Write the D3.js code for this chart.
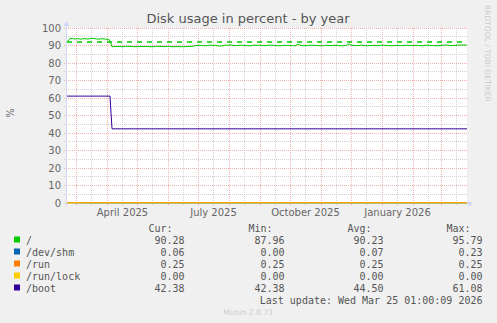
<!DOCTYPE html>
<html>
<head>
<meta charset="utf-8">
<script src="https://cdn.jsdelivr.net/npm/d3@7"></script>
<style>
    html, body { margin: 0; padding: 0; background: #f0f0f0; }
    svg { display: block; }
    text { font-family: "DejaVu Sans", sans-serif; }
    .mono text { font-family: "DejaVu Sans Mono", monospace; }
</style>
</head>
<body>
<div id="chart"></div>
<script>
const WIDTH = 497;
const HEIGHT = 323;
const PLOT = { left: 67, top: 28, width: 400, height: 175 };

// graph window: 400 days ending at the last update
const START = new Date(2025, 1, 19, 12);
const DAYS = 400;

const yTicks = [0, 10, 20, 30, 40, 50, 60, 70, 80, 90, 100];
const yMinorTicks = [5, 15, 25, 35, 45, 55, 65, 75, 85, 95];
const warningLevel = 92;

// [day offset from START, percent]
const rootSeries = [
    [0, 92.3], [1, 92.4], [3, 94.1], [5, 94.0], [8, 93.7], [11, 93.9], [14, 93.6], [17, 94.0],
    [20, 93.7], [23, 93.9], [26, 94.1], [29, 93.8], [32, 93.6], [35, 93.9], [38, 93.7], [41, 93.5],
    [43, 92.9], [45, 89.3], [50, 89.5], [55, 89.3], [60, 89.6], [65, 89.4], [70, 89.3], [75, 89.5],
    [80, 89.4], [85, 89.3], [90, 89.6], [95, 89.4], [100, 89.5], [105, 89.3], [110, 89.4], [115, 89.3],
    [120, 89.4], [125, 89.5], [128, 89.9], [133, 90.1], [138, 89.8], [143, 90.2], [148, 90.0], [153, 89.7],
    [158, 90.1], [163, 90.3], [168, 89.9], [173, 90.2], [178, 90.0], [183, 89.8], [188, 90.2], [193, 90.1],
    [198, 89.9], [203, 90.2], [208, 90.0], [213, 89.8], [218, 90.1], [223, 90.0], [228, 89.8], [231, 90.7],
    [234, 90.0], [239, 89.9], [244, 90.2], [249, 90.0], [254, 89.8], [259, 90.1], [264, 89.9], [269, 90.2],
    [274, 89.8], [279, 90.0], [282, 90.9], [285, 90.1], [290, 89.9], [295, 90.2], [300, 89.8], [305, 90.1],
    [310, 89.9], [315, 90.2], [320, 90.0], [325, 89.8], [330, 90.1], [335, 89.9], [340, 90.2], [345, 89.9],
    [350, 90.1], [355, 89.8], [360, 90.2], [365, 90.0], [370, 89.8], [375, 90.1], [380, 90.3], [385, 89.9],
    [390, 90.2], [395, 90.3], [400, 90.28]
];
const devShmSeries = [[0, 0.23], [20, 0.06], [400, 0.06]];
const runSeries = [[0, 0.25], [400, 0.25]];
const runLockSeries = [[0, 0], [400, 0]];
const bootSeries = [[0, 61.08], [43, 61.08], [45, 42.38], [400, 42.38]];

const seriesNames = ['/', '/dev/shm', '/run', '/run/lock', '/boot'];
const seriesColors = ['#00cc00', '#0066b3', '#ff8000', '#ffcc00', '#330099'];
const seriesData = [rootSeries, devShmSeries, runSeries, runLockSeries, bootSeries];

const legendHeaders = ['Cur:', 'Min:', 'Avg:', 'Max:'];
const legendValues = [
    ['90.28', '87.96', '90.23', '95.79'],
    ['0.06', '0.00', '0.07', '0.23'],
    ['0.25', '0.25', '0.25', '0.25'],
    ['0.00', '0.00', '0.00', '0.00'],
    ['42.38', '42.38', '44.50', '61.08']
];
const lastUpdate = 'Last update: Wed Mar 25 01:00:09 2026';

const dayToDate = (day) => new Date(START.getTime() + day * 864e5);

const x = d3.scaleTime()
    .domain([START, dayToDate(DAYS)])
    .range([PLOT.left, PLOT.left + PLOT.width]);

const y = d3.scaleLinear()
    .domain([0, 100])
    .range([PLOT.top + PLOT.height, PLOT.top]);

const crisp = (v) => Math.floor(v) + 0.5;

const svg = d3.select('#chart')
    .append('svg')
    .attr('width', WIDTH)
    .attr('height', HEIGHT);

svg.append('rect')
    .attr('width', WIDTH)
    .attr('height', HEIGHT)
    .attr('fill', '#f0f0f0');

svg.append('rect')
    .attr('x', PLOT.left)
    .attr('y', PLOT.top)
    .attr('width', PLOT.width)
    .attr('height', PLOT.height)
    .attr('fill', '#ffffff');

// title
svg.append('text')
    .attr('x', 248)
    .attr('y', 23)
    .attr('text-anchor', 'middle')
    .attr('font-size', 13)
    .attr('fill', '#555')
    .text('Disk usage in percent - by year');

const grid = svg.append('g');
const MINOR = '#d2d2d2';
const MAJOR = '#f0b0b0';

// vertical grid: month starts (major), mid-month (minor)
const monthStarts = d3.timeMonth.range(START, dayToDate(DAYS));
const midMonths = d3.timeMonth.range(d3.timeMonth.floor(START), dayToDate(DAYS))
    .map((d) => d3.timeDay.offset(d, 15))
    .filter((d) => d > START && d < dayToDate(DAYS));

grid.selectAll('.vminor')
    .data(midMonths)
    .join('line')
    .attr('x1', (d) => crisp(x(d)))
    .attr('x2', (d) => crisp(x(d)))
    .attr('y1', PLOT.top)
    .attr('y2', PLOT.top + PLOT.height + 3)
    .attr('stroke', MINOR)
    .attr('stroke-dasharray', '1,1');

grid.selectAll('.hminor')
    .data(yMinorTicks)
    .join('line')
    .attr('x1', PLOT.left - 3)
    .attr('x2', PLOT.left + PLOT.width)
    .attr('y1', (d) => crisp(y(d)))
    .attr('y2', (d) => crisp(y(d)))
    .attr('stroke', MINOR)
    .attr('stroke-dasharray', '1,1');

grid.selectAll('.vmajor')
    .data(monthStarts)
    .join('line')
    .attr('x1', (d) => crisp(x(d)))
    .attr('x2', (d) => crisp(x(d)))
    .attr('y1', PLOT.top)
    .attr('y2', PLOT.top + PLOT.height + 3)
    .attr('stroke', MAJOR)
    .attr('stroke-dasharray', '1,1');

grid.selectAll('.hmajor')
    .data(yTicks)
    .join('line')
    .attr('x1', PLOT.left - 3)
    .attr('x2', PLOT.left + PLOT.width)
    .attr('y1', (d) => crisp(y(d)))
    .attr('y2', (d) => crisp(y(d)))
    .attr('stroke', MAJOR)
    .attr('stroke-dasharray', '1,1');

// axes
const AXIS = '#cfd6f8';
const x0 = crisp(PLOT.left - 1);
const y0 = crisp(y(0));
svg.append('line')
    .attr('x1', x0).attr('x2', x0)
    .attr('y1', y0 + 3).attr('y2', PLOT.top - 4)
    .attr('stroke', AXIS);
svg.append('path')
    .attr('d', `M${x0 - 3},${PLOT.top - 2} L${x0},${PLOT.top - 7} L${x0 + 3},${PLOT.top - 2} Z`)
    .attr('fill', AXIS);
svg.append('line')
    .attr('x1', x0 - 3).attr('x2', PLOT.left + PLOT.width + 2)
    .attr('y1', y0).attr('y2', y0)
    .attr('stroke', AXIS);
svg.append('path')
    .attr('d', `M${PLOT.left + PLOT.width + 1},${y0 - 3} L${PLOT.left + PLOT.width + 6},${y0} L${PLOT.left + PLOT.width + 1},${y0 + 3} Z`)
    .attr('fill', AXIS);

// y labels
svg.append('g')
    .selectAll('text')
    .data(yTicks)
    .join('text')
    .attr('x', 61)
    .attr('y', (d) => y(d) + 3.6)
    .attr('text-anchor', 'end')
    .attr('font-size', 10)
    .attr('fill', '#666')
    .text((d) => d);

// x labels, every third month, shifted to mid-month
const labelMonths = monthStarts.filter((d) => d.getMonth() % 3 === 0);
svg.append('g')
    .selectAll('text')
    .data(labelMonths)
    .join('text')
    .attr('x', (d) => x(d3.timeDay.offset(d, 15)))
    .attr('y', 216)
    .attr('text-anchor', 'middle')
    .attr('font-size', 10)
    .attr('fill', '#666')
    .text(d3.timeFormat('%B %Y'));

svg.append('text')
    .attr('transform', 'translate(13.5,113) rotate(-90)')
    .attr('text-anchor', 'middle')
    .attr('font-size', 10)
    .attr('fill', '#666')
    .text('%');

svg.append('text')
    .attr('transform', 'translate(484.5,5) rotate(90)')
    .attr('font-size', 7.5)
    .attr('fill', '#ccc')
    .text('RRDTOOL / TOBI OETIKER');

// warning line
svg.append('line')
    .attr('x1', PLOT.left)
    .attr('x2', PLOT.left + PLOT.width)
    .attr('y1', y(warningLevel))
    .attr('y2', y(warningLevel))
    .attr('stroke', seriesColors[0])
    .attr('stroke-width', 1.6)
    .attr('stroke-dasharray', '5,5');

// series
const line = d3.line()
    .x((d) => x(dayToDate(d[0])))
    .y((d) => y(d[1]));

svg.append('g')
    .selectAll('path')
    .data(seriesData)
    .join('path')
    .attr('d', line)
    .attr('fill', 'none')
    .attr('stroke', (d, i) => seriesColors[i])
    .attr('stroke-width', 1);

// legend
const legend = svg.append('g').attr('class', 'mono').attr('font-size', 10).attr('fill', '#555');
const colRight = [184.5, 284.5, 383.5, 482.5];
const rowBase = (i) => 243.5 + i * 12;

legend.selectAll('.hdr')
    .data(legendHeaders)
    .join('text')
    .attr('x', (d, i) => colRight[i] - 12)
    .attr('y', 231.5)
    .attr('text-anchor', 'end')
    .text((d) => d);

seriesNames.forEach((name, i) => {
    legend.append('rect')
        .attr('x', 14)
        .attr('y', rowBase(i) - 7)
        .attr('width', 6)
        .attr('height', 6)
        .attr('fill', seriesColors[i]);
    legend.append('text')
        .attr('x', 26)
        .attr('y', rowBase(i))
        .text(name);
    legend.selectAll(null)
        .data(legendValues[i])
        .join('text')
        .attr('x', (d, j) => colRight[j])
        .attr('y', rowBase(i))
        .attr('text-anchor', 'end')
        .text((d) => d);
});

legend.append('text')
    .attr('x', colRight[3])
    .attr('y', rowBase(5))
    .attr('text-anchor', 'end')
    .text(lastUpdate);

svg.append('text')
    .attr('x', 248)
    .attr('y', 314.5)
    .attr('text-anchor', 'middle')
    .attr('font-size', 7.6)
    .attr('fill', '#ccc')
    .text('Munin 2.0.73');
</script>
</body>
</html>
